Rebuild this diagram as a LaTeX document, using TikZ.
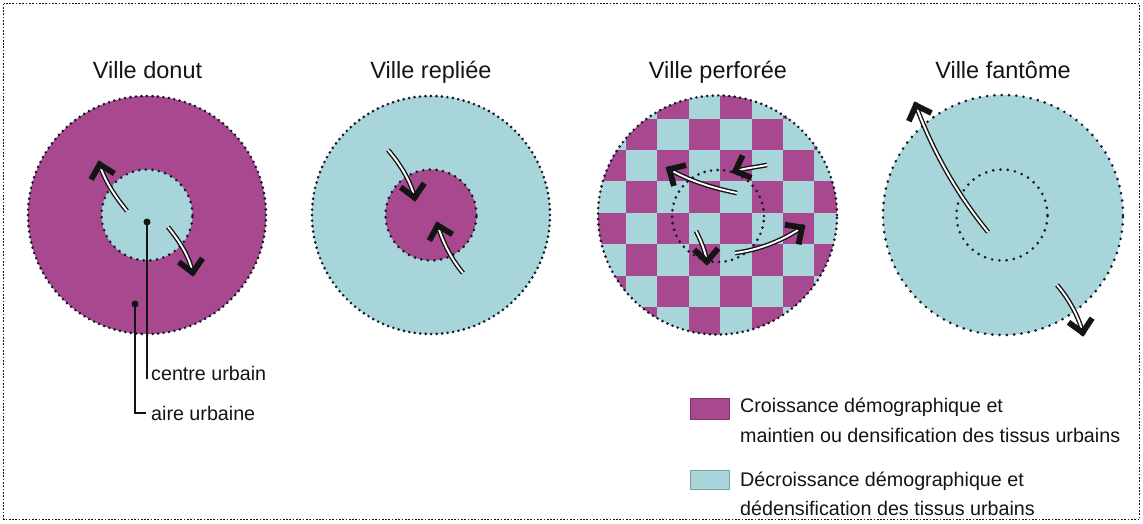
\documentclass[tikz,border=0pt]{standalone}
\usepackage{fontspec}
\setmainfont{Liberation Sans}
\usetikzlibrary{decorations.markings}
\definecolor{mag}{HTML}{A8498F}
\definecolor{cya}{HTML}{A7D5DA}
\definecolor{ink}{HTML}{141414}
\definecolor{dotink}{HTML}{15152A}
\tikzset{
  frameline/.style={draw=ink, line width=1.9pt, dash pattern=on 1.7pt off 1.6pt},
  outerdots/.style={draw=dotink, line width=2.9pt, line cap=round, dash pattern=on 0pt off 5.5pt},
  innerdots/.style={draw=dotink, line width=2.9pt, line cap=round, dash pattern=on 0pt off 6.6pt},
  ghostdots/.style={draw=dotink, line width=2.9pt, line cap=round, dash pattern=on 0pt off 7.3pt},
  shaft/.style={draw=ink, line width=1.4pt, double=white, double distance=1.9pt},
  chev/.style={draw=ink, line width=5.8pt, line join=miter, line cap=butt},
  tipmark/.style={decorate, decoration={markings, mark=at position 1 with {\draw[chev] (-15pt,12pt) -- (-2.5pt,0pt) -- (-15pt,-12pt);}}},
  title/.style={text=ink, font=\fontsize{23.5}{28}\selectfont, anchor=base, inner sep=0pt},
  lab/.style={text=ink, font=\fontsize{19.7}{24}\selectfont, anchor=base west, inner sep=0pt},
  dotn/.style={circle, fill=ink, inner sep=0pt, minimum size=7pt},
  leader/.style={draw=ink, line width=1.8pt},
  swatch/.style={draw=#1!75!black, line width=0.8pt, fill=#1, minimum width=39pt, inner sep=0pt}
}
\begin{document}
\begin{tikzpicture}[x=1pt,y=-1pt]
\fill[white] (0,0) rectangle (1143,523);
\useasboundingbox (0,0) rectangle (1143,523);
\draw[frameline] (3.5,3.5) rectangle (1139.5,519.5);

% titles
\node[title] (t1) at (147.5,78) {Ville donut};
\node[title] (t2) at (431,78) {Ville repliée};
\node[title] (t3) at (718,78) {Ville perforée};
\node[title] (t4) at (1003,78) {Ville fantôme};

% ---- Ville donut
\fill[mag] (147,215) circle (119pt);
\draw[outerdots] (147,215) circle (119pt);
\fill[cya] (147,215) circle (45.5pt);
\draw[innerdots] (147,215) circle (45.5pt);
\node[dotn] (cu) at (147,222) {};
\node[dotn] (au) at (135,304) {};
\coordinate (cuend) at (147,379);
\coordinate (aubend) at (135,413);
\coordinate (auend) at (146,413);
\draw[leader] (cu.center) -- (cuend);
\draw[leader] (au.center) -- (aubend) -- (auend);
\node[lab] (lc) at (151,380) {centre urbain};
\node[lab] (la) at (151,420) {aire urbaine};

\coordinate (d1s) at (127,211); \coordinate (d1e) at (99,162);
\draw[shaft] (d1s) .. controls (115.5,197) and (103.5,179.5) .. (d1e);
\path[tipmark] (d1s) .. controls (115.5,197) and (103.5,179.5) .. (d1e);
\coordinate (d2s) at (168,227); \coordinate (d2e) at (193,275);
\draw[shaft] (d2s) .. controls (179.3,241) and (190.2,257.2) .. (d2e);
\path[tipmark] (d2s) .. controls (179.3,241) and (190.2,257.2) .. (d2e);

% ---- Ville repliee
\fill[cya] (431,215) circle (119pt);
\draw[outerdots] (431,215) circle (119pt);
\fill[mag] (431,215) circle (45.5pt);
\draw[innerdots] (431,215) circle (45.5pt);
\coordinate (r1s) at (388,150); \coordinate (r1e) at (415,200);
\draw[shaft] (r1s) .. controls (399.9,163.5) and (412.1,183.2) .. (r1e);
\path[tipmark] (r1s) .. controls (399.9,163.5) and (412.1,183.2) .. (r1e);
\coordinate (r2s) at (463,273); \coordinate (r2e) at (437,223);
\draw[shaft] (r2s) .. controls (451.3,259.3) and (441.7,240.4) .. (r2e);
\path[tipmark] (r2s) .. controls (451.3,259.3) and (441.7,240.4) .. (r2e);

% ---- Ville perforee
\fill[cya] (717.5,215) circle (119.5pt);
\begin{scope}
  \clip (717.5,215) circle (119.5pt);
  \foreach \i in {-1,...,7} {
    \foreach \j in {-1,...,6} {
      \pgfmathtruncatemacro{\k}{\i+\j+20}
      \ifodd\k\else
        \fill[mag] ({626+31.4*\i},{118.5+31.4*\j}) rectangle ({626+31.4*(\i+1)},{118.5+31.4*(\j+1)});
      \fi
    }
  }
\end{scope}
\draw[outerdots] (717.5,215) circle (119.5pt);
\draw[innerdots] (718,216) circle (46pt);
\coordinate (p1s) at (737,193); \coordinate (p1e) at (667,168);
\draw[shaft] (p1s) .. controls (712.5,188) and (689,180.8) .. (p1e);
\path[tipmark] (p1s) .. controls (712.5,188) and (689,180.8) .. (p1e);
\coordinate (p2s) at (767,165); \coordinate (p2e) at (733,172);
\draw[shaft] (p2s) .. controls (756,167.2) and (742.3,168.4) .. (p2e);
\path[tipmark] (p2s) .. controls (756,167.2) and (742.3,168.4) .. (p2e);
\coordinate (p3s) at (696,231); \coordinate (p3e) at (707,264);
\draw[shaft] (p3s) .. controls (700.5,240) and (706.4,253) .. (p3e);
\path[tipmark] (p3s) .. controls (700.5,240) and (706.4,253) .. (p3e);
\coordinate (p4s) at (735,253); \coordinate (p4e) at (804,226);
\draw[shaft] (p4s) .. controls (759.8,249.7) and (783.5,240.3) .. (p4e);
\path[tipmark] (p4s) .. controls (759.8,249.7) and (783.5,240.3) .. (p4e);

% ---- Ville fantome
\fill[cya] (1003,215) circle (120pt);
\draw[ghostdots] (1003,215) circle (120pt);
\draw[ghostdots] (1002,215) circle (45.5pt);
\coordinate (f1s) at (988,232); \coordinate (f1e) at (915,103);
\draw[shaft] (f1s) .. controls (956.5,193.5) and (932,150) .. (f1e);
\path[tipmark] (f1s) .. controls (956.5,193.5) and (932,150) .. (f1e);
\coordinate (f2s) at (1057,285); \coordinate (f2e) at (1083,335);
\draw[shaft] (f2s) .. controls (1068.2,297.8) and (1080,318.3) .. (f2e);
\path[tipmark] (f2s) .. controls (1068.2,297.8) and (1080,318.3) .. (f2e);

% ---- legend
\node[swatch=mag, minimum height=21pt] (sw1) at (709.5,408.5) {};
\node[swatch=cya, minimum height=19pt] (sw2) at (709.5,479.5) {};
\node[lab] (l1a) at (740,412) {Croissance démographique et};
\node[lab] (l1b) at (740,442) {maintien ou densification des tissus urbains};
\node[lab] (l2a) at (740,486) {Décroissance démographique et};
\node[lab] (l2b) at (740,515) {dédensification des tissus urbains};
\end{tikzpicture}
\end{document}
